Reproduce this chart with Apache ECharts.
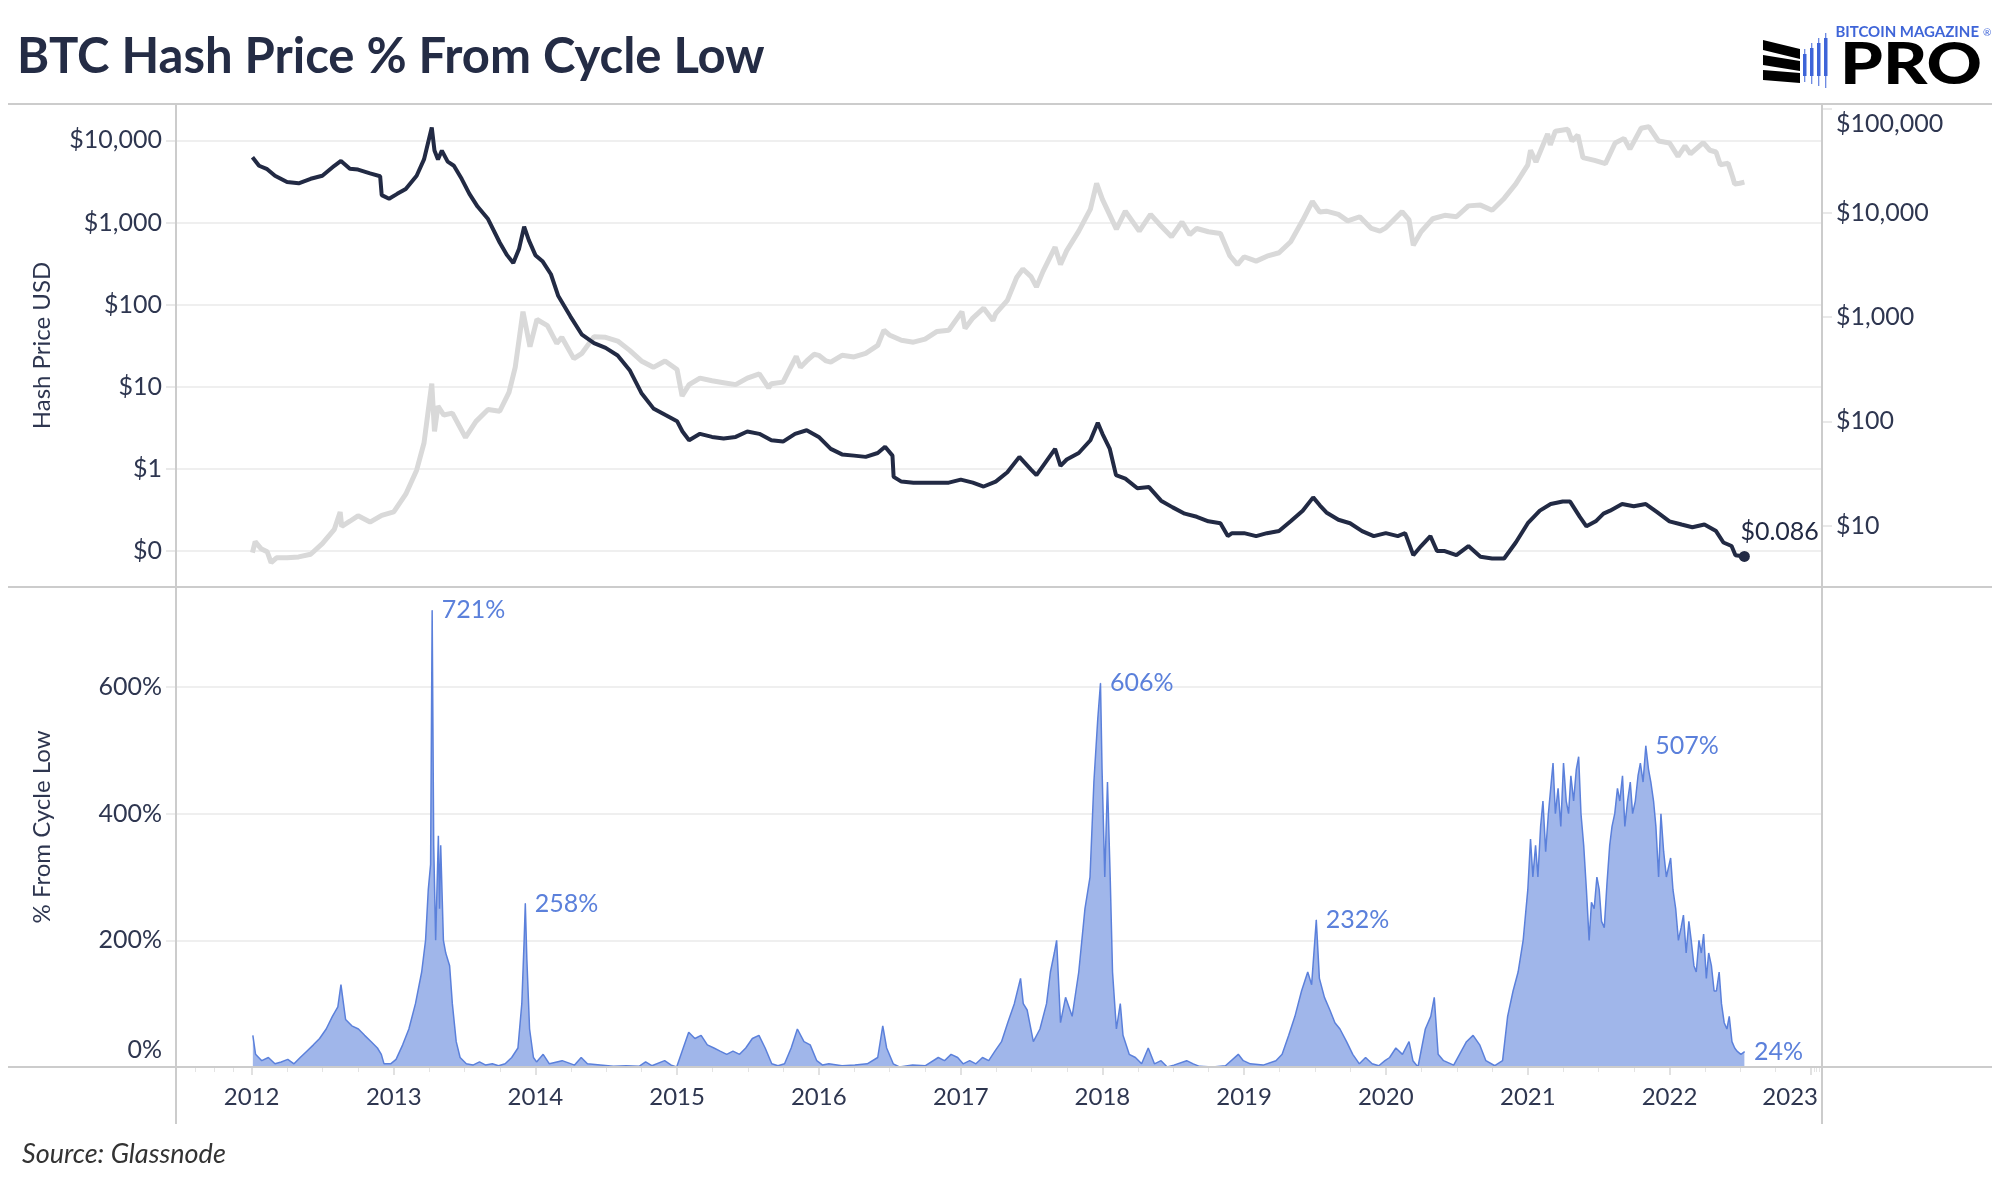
<!DOCTYPE html>
<html><head><meta charset="utf-8">
<script src="https://cdn.jsdelivr.net/npm/echarts@6/dist/echarts.min.js"></script>
<style>html,body{margin:0;padding:0;background:#fff}#c{width:2000px;height:1200px}</style>
</head><body><div id="c"></div>
<script>
// Hash price (USD per TH/s per day) - left log axis
const hashPrice = [
['2012-01-03',6200],['2012-01-20',4900],['2012-02-10',4450],['2012-03-01',3700],['2012-04-01',3100],['2012-05-01',3000],
['2012-06-01',3400],['2012-07-01',3700],['2012-08-01',4900],['2012-08-18',5600],['2012-09-10',4500],['2012-10-01',4400],
['2012-11-01',3950],['2012-11-27',3650],['2012-12-01',2150],['2012-12-20',1940],['2013-01-10',2230],['2013-02-01',2560],
['2013-03-01',3700],['2013-03-20',5850],['2013-04-09',14300],['2013-04-16',7500],['2013-04-25',5850],['2013-05-05',7500],
['2013-05-20',5500],['2013-06-05',4900],['2013-06-25',3400],['2013-07-15',2230],['2013-08-05',1560],['2013-09-01',1100],
['2013-10-01',570],['2013-10-20',400],['2013-11-05',320],['2013-11-20',480],['2013-12-03',890],['2013-12-15',610],
['2014-01-01',400],['2014-01-20',334],['2014-02-10',234],['2014-03-01',127],['2014-04-01',72],['2014-05-01',43],
['2014-06-01',34],['2014-07-01',29.7],['2014-08-01',24],['2014-09-01',15.9],['2014-10-01',8.4],['2014-11-01',5.45],
['2014-12-01',4.56],['2015-01-01',3.81],['2015-01-15',2.85],['2015-02-01',2.23],['2015-03-01',2.67],['2015-04-01',2.45],
['2015-05-01',2.35],['2015-06-01',2.45],['2015-07-01',2.85],['2015-08-01',2.67],['2015-09-01',2.23],['2015-10-01',2.15],
['2015-11-01',2.67],['2015-12-01',2.95],['2016-01-01',2.45],['2016-02-01',1.75],['2016-03-01',1.5],['2016-04-01',1.45],
['2016-05-01',1.40],['2016-06-01',1.56],['2016-06-20',1.86],['2016-07-09',1.45],['2016-07-12',0.80],['2016-08-01',0.70],
['2016-09-01',0.68],['2016-10-01',0.68],['2016-11-01',0.68],['2016-12-01',0.68],['2017-01-01',0.74],['2017-02-01',0.68],
['2017-03-01',0.61],['2017-04-01',0.70],['2017-05-01',0.91],['2017-06-01',1.40],['2017-07-01',0.98],['2017-07-15',0.84],
['2017-08-01',1.09],['2017-09-01',1.75],['2017-09-15',1.09],['2017-10-01',1.30],['2017-11-01',1.56],['2017-12-01',2.23],
['2017-12-20',3.65],['2018-01-01',2.67],['2018-01-20',1.75],['2018-02-05',0.84],['2018-03-01',0.76],['2018-04-01',0.58],
['2018-05-01',0.60],['2018-06-01',0.41],['2018-07-01',0.34],['2018-08-01',0.285],['2018-09-01',0.261],['2018-10-01',0.23],
['2018-11-01',0.218],['2018-11-20',0.152],['2018-12-01',0.165],['2019-01-01',0.165],['2019-02-01',0.152],['2019-03-01',0.165],
['2019-04-01',0.175],['2019-05-01',0.23],['2019-06-01',0.31],['2019-06-28',0.45],['2019-07-15',0.36],['2019-08-01',0.295],
['2019-09-01',0.24],['2019-10-01',0.218],['2019-11-01',0.175],['2019-12-01',0.152],['2020-01-01',0.165],['2020-02-01',0.152],
['2020-02-20',0.165],['2020-03-12',0.089],['2020-04-01',0.115],['2020-04-25',0.152],['2020-05-12',0.1],['2020-06-01',0.1],
['2020-07-01',0.089],['2020-08-01',0.115],['2020-09-01',0.085],['2020-10-01',0.081],['2020-11-01',0.081],['2020-12-01',0.127],
['2021-01-01',0.218],['2021-02-01',0.31],['2021-03-01',0.373],['2021-04-01',0.40],['2021-04-20',0.40],['2021-05-15',0.26],
['2021-06-01',0.2],['2021-06-25',0.23],['2021-07-15',0.285],['2021-08-01',0.31],['2021-09-01',0.373],['2021-10-01',0.35],
['2021-11-01',0.373],['2021-12-01',0.295],['2022-01-01',0.23],['2022-02-01',0.21],['2022-03-01',0.195],['2022-04-01',0.21],
['2022-05-01',0.175],['2022-05-20',0.127],['2022-06-10',0.115],['2022-06-20',0.089],['2022-07-13',0.086]
];

// BTC price (USD) - right log axis
const btcPrice = [
['2012-01-03',5.5],['2012-01-10',7.0],['2012-01-25',6.0],['2012-02-10',5.6],['2012-02-20',4.4],['2012-03-05',4.9],
['2012-04-01',4.9],['2012-05-01',5.0],['2012-06-01',5.3],['2012-07-01',6.7],['2012-08-01',9.2],['2012-08-16',13.5],
['2012-08-20',9.8],['2012-09-10',11],['2012-10-01',12.4],['2012-11-01',10.8],['2012-12-01',12.5],['2013-01-01',13.5],
['2013-02-01',20],['2013-03-01',34],['2013-03-20',62],['2013-04-09',230],['2013-04-16',80],['2013-04-25',140],
['2013-05-10',115],['2013-06-01',120],['2013-07-05',70],['2013-08-01',100],['2013-09-01',130],['2013-10-01',125],
['2013-10-25',190],['2013-11-10',330],['2013-11-30',1130],['2013-12-18',520],['2014-01-05',950],['2014-02-01',830],
['2014-02-25',560],['2014-03-10',640],['2014-04-10',400],['2014-05-01',450],['2014-06-01',650],['2014-07-01',640],
['2014-08-01',590],['2014-09-01',480],['2014-10-01',380],['2014-11-01',330],['2014-12-01',380],['2015-01-01',315],
['2015-01-14',175],['2015-02-01',225],['2015-03-01',260],['2015-04-01',245],['2015-05-01',235],['2015-06-01',225],
['2015-07-01',260],['2015-08-01',285],['2015-08-25',210],['2015-09-01',230],['2015-10-01',238],['2015-11-04',420],
['2015-11-15',330],['2015-12-01',380],['2015-12-20',440],['2016-01-01',430],['2016-01-20',380],['2016-02-01',370],
['2016-03-01',430],['2016-04-01',415],['2016-05-01',450],['2016-06-01',535],['2016-06-17',750],['2016-07-01',675],
['2016-08-01',600],['2016-09-01',575],['2016-10-01',615],['2016-11-01',730],['2016-12-01',750],['2017-01-04',1130],
['2017-01-12',780],['2017-02-01',980],['2017-03-01',1220],['2017-03-25',930],['2017-04-01',1080],['2017-05-01',1450],
['2017-05-25',2400],['2017-06-10',2900],['2017-07-01',2450],['2017-07-15',1950],['2017-08-01',2750],['2017-09-01',4700],
['2017-09-15',3200],['2017-10-01',4350],['2017-11-01',6700],['2017-12-01',10900],['2017-12-17',19300],['2018-01-01',13500],
['2018-02-06',7000],['2018-03-01',10400],['2018-04-06',6700],['2018-05-05',9700],['2018-06-01',7500],['2018-06-28',5900],
['2018-07-25',8200],['2018-08-14',6200],['2018-09-01',7100],['2018-10-01',6600],['2018-11-01',6350],['2018-11-25',3900],
['2018-12-15',3200],['2019-01-01',3800],['2019-02-01',3450],['2019-03-01',3850],['2019-04-01',4150],['2019-05-01',5300],
['2019-06-01',8500],['2019-06-26',12900],['2019-07-15',10200],['2019-08-01',10400],['2019-09-01',9700],['2019-09-25',8400],
['2019-10-26',9200],['2019-11-25',7100],['2019-12-17',6700],['2020-01-01',7200],['2020-02-12',10300],['2020-03-01',8600],
['2020-03-12',4900],['2020-04-01',6600],['2020-05-01',8800],['2020-06-01',9500],['2020-07-01',9200],['2020-08-01',11700],
['2020-09-01',11900],['2020-10-01',10600],['2020-11-01',13800],['2020-12-01',19000],['2021-01-01',29000],['2021-01-08',40000],
['2021-01-22',30800],['2021-02-21',57500],['2021-02-28',45000],['2021-03-13',61000],['2021-04-14',63500],['2021-04-25',49000],
['2021-05-10',56000],['2021-05-23',34000],['2021-06-22',32000],['2021-07-20',29800],['2021-08-14',47000],['2021-09-06',52000],
['2021-09-21',41000],['2021-10-20',65000],['2021-11-09',67500],['2021-12-04',49000],['2022-01-01',47000],['2022-01-23',35000],
['2022-02-10',44000],['2022-02-24',37000],['2022-03-29',47400],['2022-04-15',40000],['2022-05-01',38500],['2022-05-12',29000],
['2022-06-01',30000],['2022-06-13',22000],['2022-06-18',19000],['2022-07-01',19300],['2022-07-13',19800]
];

// % from cycle low - bottom panel
const pctFromLow = [
['2012-01-04',50],['2012-01-11',20],['2012-01-27',10],['2012-02-13',15],['2012-03-01',5],['2012-03-17',8],['2012-04-03',12],
['2012-04-19',5],['2012-05-05',15],['2012-05-22',25],['2012-06-08',35],['2012-06-24',45],['2012-07-11',60],['2012-07-27',80],
['2012-08-10',95],['2012-08-18',130],['2012-08-30',75],['2012-09-15',65],['2012-10-02',60],['2012-10-18',50],['2012-11-04',40],
['2012-11-20',30],['2012-11-30',20],['2012-12-07',5],['2012-12-24',5],['2013-01-07',12],['2013-01-24',35],['2013-02-09',60],
['2013-02-26',100],['2013-03-14',150],['2013-03-24',200],['2013-03-31',280],['2013-04-06',320],['2013-04-10',721],
['2013-04-14',350],['2013-04-19',200],['2013-04-26',365],['2013-04-29',250],['2013-05-02',350],['2013-05-09',200],
['2013-05-15',180],['2013-05-25',160],['2013-06-01',100],['2013-06-11',40],['2013-06-21',15],['2013-07-07',5],['2013-07-24',3],
['2013-08-10',8],['2013-08-26',3],['2013-09-12',5],['2013-09-28',2],['2013-10-15',5],['2013-11-01',15],['2013-11-17',30],
['2013-11-27',100],['2013-12-03',200],['2013-12-06',258],['2013-12-10',170],['2013-12-17',60],['2013-12-27',15],
['2014-01-04',8],['2014-01-21',20],['2014-02-06',5],['2014-03-11',10],['2014-04-12',3],['2014-04-29',15],['2014-05-15',5],
['2014-06-17',3],['2014-07-21',1],['2014-08-23',2],['2014-09-25',1],['2014-10-12',8],['2014-10-28',2],['2014-11-30',10],
['2014-12-17',3],['2014-12-31',0],['2015-01-14',25],['2015-01-31',55],['2015-02-16',45],['2015-03-04',50],['2015-03-20',35],
['2015-04-06',30],['2015-04-22',25],['2015-05-09',20],['2015-05-25',25],['2015-06-11',20],['2015-06-27',30],['2015-07-14',45],
['2015-07-31',50],['2015-08-16',30],['2015-09-02',5],['2015-09-18',2],['2015-10-05',5],['2015-10-22',30],['2015-11-07',60],
['2015-11-24',40],['2015-12-10',35],['2015-12-27',10],['2016-01-11',3],['2016-01-27',5],['2016-03-01',2],['2016-04-03',3],
['2016-05-05',5],['2016-06-01',15],['2016-06-14',65],['2016-06-24',30],['2016-07-11',5],['2016-07-27',0],['2016-08-30',3],
['2016-10-02',2],['2016-11-04',15],['2016-11-20',10],['2016-12-07',20],['2016-12-24',15],['2017-01-07',5],['2017-01-24',10],
['2017-02-09',5],['2017-02-26',15],['2017-03-14',10],['2017-03-30',25],['2017-04-16',40],['2017-05-02',70],['2017-05-19',100],
['2017-06-04',140],['2017-06-11',100],['2017-06-21',90],['2017-07-07',40],['2017-07-24',60],['2017-08-10',100],['2017-08-20',150],
['2017-08-30',180],['2017-09-05',200],['2017-09-15',70],['2017-09-28',110],['2017-10-15',80],['2017-11-01',150],['2017-11-17',250],
['2017-11-30',300],['2017-12-10',450],['2017-12-20',550],['2017-12-27',606],['2017-12-31',470],['2018-01-07',300],['2018-01-14',450],
['2018-01-21',300],['2018-01-27',150],['2018-02-06',60],['2018-02-16',100],['2018-02-23',50],['2018-03-11',20],['2018-03-27',15],
['2018-04-12',5],['2018-04-29',30],['2018-05-15',5],['2018-06-01',10],['2018-06-17',0],['2018-07-04',3],['2018-08-06',10],
['2018-08-23',5],['2018-09-08',1],['2018-10-12',0],['2018-11-14',2],['2018-12-17',20],['2018-12-30',10],['2019-01-17',5],
['2019-02-19',3],['2019-03-24',10],['2019-04-09',20],['2019-04-26',50],['2019-05-12',80],['2019-05-29',120],['2019-06-14',150],
['2019-06-24',130],['2019-07-06',232],['2019-07-14',140],['2019-07-27',110],['2019-08-10',90],['2019-08-23',70],['2019-09-05',60],
['2019-09-22',40],['2019-10-08',20],['2019-10-25',5],['2019-11-10',15],['2019-11-27',5],['2019-12-14',2],['2019-12-30',10],
['2020-01-11',15],['2020-01-27',30],['2020-02-13',20],['2020-03-01',40],['2020-03-11',10],['2020-03-24',0],['2020-04-12',60],
['2020-04-26',80],['2020-05-05',110],['2020-05-15',20],['2020-05-29',10],['2020-06-24',3],['2020-07-27',40],['2020-08-13',50],
['2020-08-30',35],['2020-09-15',10],['2020-10-08',2],['2020-10-28',10],['2020-11-10',80],['2020-11-24',120],['2020-12-07',150],
['2020-12-20',200],['2021-01-01',280],['2021-01-08',360],['2021-01-14',300],['2021-01-21',350],['2021-01-27',300],['2021-02-03',380],
['2021-02-09',420],['2021-02-16',340],['2021-02-23',400],['2021-03-01',440],['2021-03-07',480],['2021-03-13',400],['2021-03-20',440],
['2021-03-27',380],['2021-04-03',480],['2021-04-10',420],['2021-04-16',400],['2021-04-22',460],['2021-04-29',420],['2021-05-06',470],
['2021-05-12',490],['2021-05-18',400],['2021-05-25',350],['2021-06-01',280],['2021-06-08',200],['2021-06-14',260],['2021-06-21',250],
['2021-06-28',300],['2021-07-04',280],['2021-07-10',230],['2021-07-17',220],['2021-07-24',290],['2021-07-31',350],['2021-08-06',380],
['2021-08-13',400],['2021-08-20',440],['2021-08-26',420],['2021-09-02',460],['2021-09-08',380],['2021-09-15',420],['2021-09-22',450],
['2021-09-28',400],['2021-10-05',420],['2021-10-12',460],['2021-10-18',480],['2021-10-25',450],['2021-11-01',507],['2021-11-08',470],
['2021-11-14',450],['2021-11-21',420],['2021-11-27',380],['2021-12-04',300],['2021-12-10',400],['2021-12-17',340],['2021-12-24',300],
['2022-01-04',330],['2022-01-10',280],['2022-01-17',250],['2022-01-24',200],['2022-01-31',220],['2022-02-06',240],['2022-02-13',180],
['2022-02-20',230],['2022-02-26',200],['2022-03-05',160],['2022-03-11',150],['2022-03-18',200],['2022-03-24',180],['2022-03-30',210],
['2022-04-06',140],['2022-04-12',180],['2022-04-19',160],['2022-04-26',120],['2022-05-02',120],['2022-05-09',150],['2022-05-15',100],
['2022-05-22',70],['2022-05-29',60],['2022-06-04',80],['2022-06-11',40],['2022-06-18',30],['2022-06-24',25],['2022-07-04',20],
['2022-07-13',24]
];

// dates of the labelled peaks in the bottom panel
const pctPeakDates = ['2013-04-10','2013-12-06','2017-12-27','2019-07-06','2021-11-01','2022-07-13'];

const FONT = 'Lato';
const TXT = '#2e3650';
const FRAME = '#cccccc';
const GRIDC = '#efefef';

function isPow10(v){ const l = Math.log10(v); return Math.abs(l - Math.round(l)) < 1e-6; }
function money(v){ return '$' + Math.round(v).toLocaleString('en-US'); }

const hashData = hashPrice.map((p, i) => {
  const item = { value: p };
  if (i === hashPrice.length - 1) {
    item.symbol = 'circle'; item.symbolSize = 11;
    item.label = { show: true, position: 'top', align: 'left', distance: 6, offset: [-4, 0],
      formatter: '$' + p[1], fontFamily: FONT, fontSize: 25, color: '#222a44' };
  }
  return item;
});
const btcData = btcPrice.map(p => p);
const pctData = pctFromLow.map(p => {
  const item = { value: p };
  if (pctPeakDates.indexOf(p[0]) >= 0) {
    item.symbol = 'circle'; item.symbolSize = 1;
    item.label = { show: true, position: 'right', distance: 9, formatter: p[1] + '%',
      fontFamily: FONT, fontSize: 25, color: '#5b80db' };
  }
  return item;
});

const X_MIN = '2011-06-20', X_MAX = '2023-01-29';
const DAY = 86400000;
const labelBase = { fontFamily: FONT, fontSize: 25, color: TXT };

const chart = echarts.init(document.getElementById('c'));
chart.setOption({
  animation: false,
  backgroundColor: '#ffffff',
  textStyle: { fontFamily: FONT },
  grid: [
    { left: 176, right: 178, top: 104, height: 483 },
    { left: 176, right: 178, top: 587, height: 480 }
  ],
  xAxis: [
    { type: 'time', gridIndex: 0, min: X_MIN, max: X_MAX, axisLine: { show: false }, axisTick: { show: false },
      axisLabel: { show: false }, splitLine: { show: false } },
    { type: 'time', gridIndex: 1, min: X_MIN, max: X_MAX, splitNumber: 12, minInterval: 360 * DAY, maxInterval: 370 * DAY,
      axisLine: { show: false },
      axisTick: { show: true, length: 8, lineStyle: { color: '#d8d8d8', width: 1.5 } },
      minorTick: { show: true, splitNumber: 4, length: 5, lineStyle: { color: '#e4e4e4', width: 1 } },
      splitLine: { show: false },
      axisLabel: Object.assign({}, labelBase, {
        fontSize: 24, margin: 18, showMinLabel: false, showMaxLabel: false,
        formatter: function (v) {
          const d = new Date(v);
          if (d.getMonth() !== 0 || d.getDate() !== 1 || d.getHours() !== 0) return '';
          const y = d.getFullYear();
          return y === 2023 ? '{e|2023}' : String(y);
        },
        rich: { e: Object.assign({}, labelBase, { fontSize: 24, padding: [0, 42, 0, 0] }) }
      }) }
  ],
  yAxis: [
    { type: 'log', logBase: 10, gridIndex: 0, position: 'left', min: Math.pow(10, -1.438), max: Math.pow(10, 4.442),
      axisLine: { show: false },
      axisTick: { show: true, length: 10, lineStyle: { color: '#e2e2e2', width: 1.5 } },
      splitLine: { show: true, lineStyle: { color: GRIDC, width: 2 } },
      axisLabel: Object.assign({}, labelBase, { margin: 14, showMinLabel: false, showMaxLabel: false,
        formatter: v => isPow10(v) ? money(v) : '' }),
      name: 'Hash Price USD', nameLocation: 'middle', nameGap: 122,
      nameTextStyle: { fontFamily: FONT, fontSize: 24, color: TXT } },
    { type: 'log', logBase: 10, gridIndex: 0, position: 'right', min: Math.pow(10, 0.410), max: Math.pow(10, 5.046),
      axisLine: { show: false },
      axisTick: { show: true, length: 10, lineStyle: { color: '#e2e2e2', width: 1.5 } },
      splitLine: { show: false },
      axisLabel: Object.assign({}, labelBase, { margin: 14, showMinLabel: false, showMaxLabel: false,
        formatter: v => !isPow10(v) ? '' : (Math.abs(v - 1e5) < 1 ? '{s|' + money(v) + '}' : money(v)),
        rich: { s: Object.assign({}, labelBase, { padding: [30, 0, 0, 0] }) } }) },
    { type: 'value', gridIndex: 1, min: 0, max: 758, interval: 200,
      axisLine: { show: false },
      axisTick: { show: true, length: 10, lineStyle: { color: '#e8e8e8', width: 1.5 } },
      splitLine: { show: true, lineStyle: { color: GRIDC, width: 2 } },
      axisLabel: Object.assign({}, labelBase, { margin: 14, showMaxLabel: false,
        formatter: v => (v % 200 !== 0) ? '' : (v === 0 ? '{z|0%}' : v + '%'),
        rich: { z: Object.assign({}, labelBase, { padding: [0, 0, 34, 0] }) } }),
      name: '% From Cycle Low', nameLocation: 'middle', nameGap: 122,
      nameTextStyle: { fontFamily: FONT, fontSize: 24, color: TXT } }
  ],
  series: [
    { type: 'line', name: 'BTC Price', xAxisIndex: 0, yAxisIndex: 1, data: btcData, symbol: 'none',
      lineStyle: { color: '#d9d9d9', width: 5 }, itemStyle: { color: '#d9d9d9' }, z: 1, silent: true },
    { type: 'line', name: 'Hash Price', xAxisIndex: 0, yAxisIndex: 0, data: hashData, symbol: 'none',
      lineStyle: { color: '#222a44', width: 4 }, itemStyle: { color: '#222a44' }, z: 3, silent: true },
    { type: 'line', name: '% From Cycle Low', xAxisIndex: 1, yAxisIndex: 2, data: pctData, symbol: 'none',
      lineStyle: { color: '#5b80db', width: 1.5 }, itemStyle: { color: '#5b80db' },
      areaStyle: { color: '#a0b6ea', opacity: 1 }, z: 2, silent: true }
  ],
  graphic: [
    { type: 'text', x: 17, y: 57, style: { text: 'BTC Hash Price % From Cycle Low', font: 'bold 49px Lato', fill: '#242c45', verticalAlign: 'middle' } },
    { type: 'text', x: 22, y: 1154, style: { text: 'Source: Glassnode', font: 'italic 27px Lato', fill: '#333333', verticalAlign: 'middle' } },
    { type: 'line', shape: { x1: 8, y1: 104, x2: 1992, y2: 104 }, style: { stroke: FRAME, lineWidth: 2 }, z: 10 },
    { type: 'line', shape: { x1: 8, y1: 587, x2: 1992, y2: 587 }, style: { stroke: FRAME, lineWidth: 2 }, z: 10 },
    { type: 'line', shape: { x1: 8, y1: 1067, x2: 1992, y2: 1067 }, style: { stroke: FRAME, lineWidth: 2 }, z: 10 },
    { type: 'line', shape: { x1: 176, y1: 104, x2: 176, y2: 1124 }, style: { stroke: FRAME, lineWidth: 2 }, z: 10 },
    { type: 'line', shape: { x1: 1822, y1: 104, x2: 1822, y2: 1124 }, style: { stroke: FRAME, lineWidth: 2 }, z: 10 },
    // logo
    { type: 'text', x: 1979, y: 32, style: { text: 'BITCOIN MAGAZINE', font: 'bold 15px Lato', fill: '#3f65d8', align: 'right', verticalAlign: 'middle' } },
    { type: 'text', x: 1840, y: 66, scaleX: 1.2, style: { text: 'PRO', font: '900 57px Lato', fill: '#000000', verticalAlign: 'middle' } },
    { type: 'text', x: 1983, y: 33, style: { text: '®', font: '10px Lato', fill: '#3f65d8', verticalAlign: 'middle' } },
    { type: 'polygon', shape: { points: [[1763,40],[1800,49],[1800,59],[1763,50]] }, style: { fill: '#000' } },
    { type: 'polygon', shape: { points: [[1763,55],[1800,61],[1800,71],[1763,65]] }, style: { fill: '#000' } },
    { type: 'polygon', shape: { points: [[1763,70],[1800,73],[1800,83],[1763,80]] }, style: { fill: '#000' } },
    { type: 'rect', shape: { x: 1803, y: 54, width: 3.5, height: 22 }, style: { fill: '#3f65d8' } },
    { type: 'rect', shape: { x: 1810, y: 48, width: 3.5, height: 28 }, style: { fill: '#3f65d8' } },
    { type: 'rect', shape: { x: 1817, y: 43, width: 3.5, height: 33 }, style: { fill: '#3f65d8' } },
    { type: 'rect', shape: { x: 1824, y: 38, width: 3.5, height: 38 }, style: { fill: '#3f65d8' } },
    { type: 'line', shape: { x1: 1804.75, y1: 49, x2: 1804.75, y2: 82 }, style: { stroke: '#3f65d8', lineWidth: 1 } },
    { type: 'line', shape: { x1: 1811.75, y1: 43, x2: 1811.75, y2: 84 }, style: { stroke: '#3f65d8', lineWidth: 1 } },
    { type: 'line', shape: { x1: 1818.75, y1: 38, x2: 1818.75, y2: 86 }, style: { stroke: '#3f65d8', lineWidth: 1 } },
    { type: 'line', shape: { x1: 1825.75, y1: 33, x2: 1825.75, y2: 88 }, style: { stroke: '#3f65d8', lineWidth: 1 } }
  ]
});
</script>
</body></html>
